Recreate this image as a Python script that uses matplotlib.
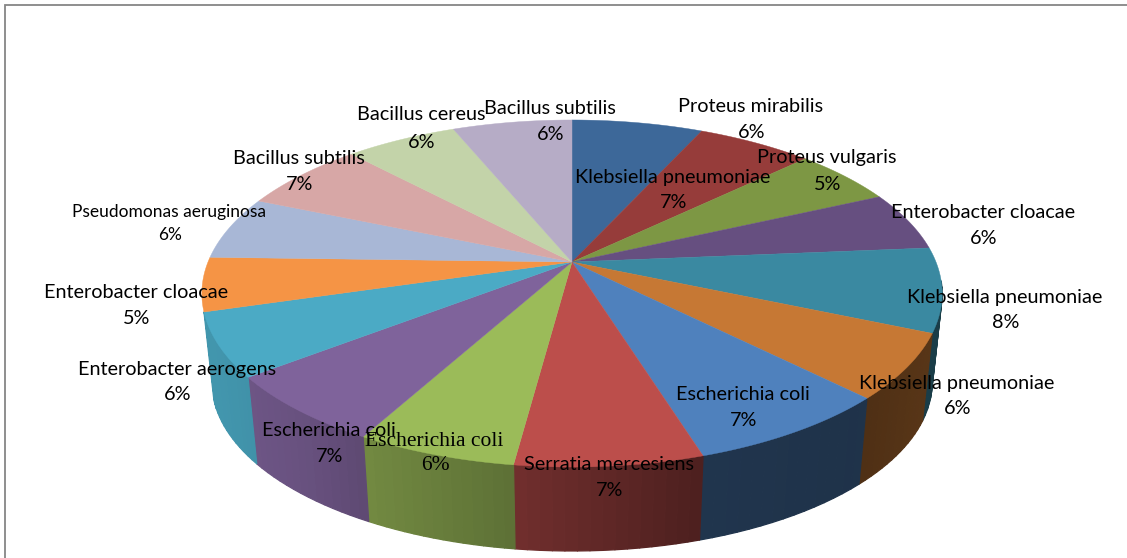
import numpy as np
import matplotlib
matplotlib.use('Agg')
import matplotlib.pyplot as plt
from matplotlib.collections import PolyCollection
from matplotlib.colors import to_rgb

# data, clockwise from 12 o'clock
names = ['Klebsiella pneumoniae', 'Proteus mirabilis', 'Proteus vulgaris', 'Enterobacter cloacae',
         'Klebsiella pneumoniae', 'Klebsiella pneumoniae', 'Escherichia coli', 'Serratia mercesiens',
         'Escherichia coli', 'Escherichia coli', 'Enterobacter aerogens', 'Enterobacter cloacae',
         'Pseudomonas aeruginosa', 'Bacillus subtilis', 'Bacillus cereus', 'Bacillus subtilis']
values = [6.8, 6.0, 5.3, 5.5, 7.8, 6.05, 7.65, 6.9, 5.9, 6.5, 5.9, 5.0, 5.9, 6.6, 5.8, 6.2]
pct_labels = ['7%', '6%', '5%', '6%', '8%', '6%', '7%', '7%', '6%', '7%', '6%', '5%', '6%', '7%', '6%', '6%']

colors = ['#3d6899', '#963c3a', '#7d9744', '#664f80', '#3a89a1', '#c67834',
          '#4f81bd', '#bc4e4b', '#9bbb59', '#7f639b', '#4baac5', '#f59445',
          '#a8b7d6', '#d7a7a6', '#c3d3a9', '#b6acc6']

# label centres in pixels
label_x = [673, 751, 827, 983, 1005, 957, 743, 609, 434, 329, 177, 136, 169, 299, 421, 550]
name_y = [177, 106, 157, 213, 297, 383, 395, 465, 441, 430, 369, 293, 212, 158, 115, 108]
pct_y = [203, 133, 184, 239, 323, 409, 421, 491, 466, 457, 395, 319, 235, 184, 143, 134]

# perspective of the pie
cx, cy = 572, 262
rx, ry, persp = 364, 167.8, 0.1816
depth, shrink = 89.5, 0.973


def project(theta, scale=1.0, drop=0.0):
    u, v = np.sin(theta), np.cos(theta)
    w = 1 + persp * v
    return cx + scale * rx * u / w, cy + drop - scale * ry * v / w


fig = plt.figure(figsize=(11.27, 5.58), dpi=100)
ax = fig.add_axes([0, 0, 1, 1])
ax.set_xlim(0, 1127)
ax.set_ylim(558, 0)
ax.axis('off')

edges = np.cumsum([0] + values) / sum(values) * 2 * np.pi

# side wall, strips so it can darken to the right. back part is hidden anyway
strips, strip_cols = [], []
for i in range(len(values)):
    th = np.linspace(edges[i], edges[i + 1], 16)
    base = np.array(to_rgb(colors[i]))
    for a, b in zip(th[:-1], th[1:]):
        if b < np.radians(98) or a > np.radians(253):
            continue
        x1, y1 = project(a)
        x2, y2 = project(b)
        x3, y3 = project(b, shrink, depth)
        x4, y4 = project(a, shrink, depth)
        strips.append([(x1, y1), (x2, y2), (x3, y3), (x4, y4)])
        shade = np.interp((x1 + x2) / 2, [215, 300, 370, 515, 700, 857, 940],
                          [0.88, 0.82, 0.73, 0.6, 0.41, 0.39, 0.45])
        strip_cols.append(base * shade)
ax.add_collection(PolyCollection(strips, facecolors=strip_cols, edgecolors=strip_cols, linewidths=0.9))

# top face
for i in range(len(values)):
    th = np.linspace(edges[i], edges[i + 1], 60)
    x, y = project(th)
    ax.fill(np.r_[cx, x], np.r_[cy, y], color=colors[i], lw=0.3)

# frame, only left and top are visible
ax.plot([5, 5, 1127], [558, 5, 5], color='#868686', lw=1.3, solid_joinstyle='miter')

for i in range(len(names)):
    family, size = 'Lato', 14.3
    if names[i] == 'Pseudomonas aeruginosa':
        size = 12.5
    if i == 8:
        family, size = 'Liberation Serif', 15.5
    ax.text(label_x[i], name_y[i], names[i], family=family, fontsize=size, ha='center', va='center', color='black')
    ax.text(label_x[i] + 1, pct_y[i], pct_labels[i], family=family, fontsize=size, ha='center', va='center', color='black')

fig.savefig('out.png', dpi=100)
